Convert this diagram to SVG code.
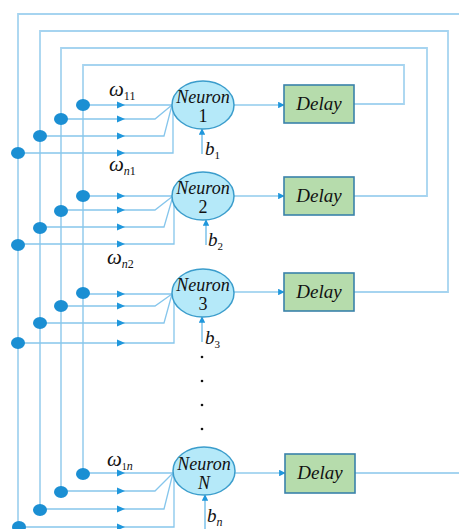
<svg xmlns="http://www.w3.org/2000/svg" xmlns:xlink="http://www.w3.org/1999/xlink" width="459" height="529" viewBox="0 0 459 529">
  <style>
    .loop { fill: none; stroke: #a6d4f0; stroke-width: 1.8; }
    .wire { fill: none; stroke: #86c6ec; stroke-width: 1.3; }
    .dot { fill: #1b8fd3; }
    .head { fill: #1f97dc; }
    .neuron ellipse { fill: #b5e9f9; stroke: #3b9dcc; stroke-width: 1.5; }
    .delay rect { fill: #b6dcac; stroke: #3a82aa; stroke-width: 1.6; }
    .lbl { font-family: "Liberation Serif", "Times New Roman", serif; fill: #111; }
    .it { font-style: italic; }
    .bias { fill: none; stroke: #5ab2e4; stroke-width: 1.2; }
  </style>
  <defs>
    <path id="ah" d="M-8,-3.5 L0,0 L-8,3.5 Z" class="head"/>
    <marker id="tip" viewBox="0 0 10 10" refX="9" refY="5" markerWidth="6.5" markerHeight="6.5" markerUnits="userSpaceOnUse" orient="auto">
      <path d="M0,0 L10,5 L0,10 Z" fill="#1f97dc"/>
    </marker>
  </defs>

  <rect width="459" height="529" fill="#ffffff"/>

  <g id="connectors">
    <!-- feedback loops from the delay outputs back to the input rails -->
    <path class="loop" d="M18,529 V14 H459"/>
    <path class="loop" d="M355,473 H459"/>
    <path class="loop" d="M40,511 V31 H448 V292 H354"/>
    <path class="loop" d="M61,492 V48 H427 V196 H354"/>
    <path class="loop" d="M83,474 V65 H404 V104 H354"/>

    <!-- inputs of neuron 1 -->
    <path class="wire" d="M83,105 H172"/>
    <path class="wire" d="M61,119 H155 L172,105"/>
    <path class="wire" d="M40,136 H164 L172,105"/>
    <path class="wire" d="M18,153 H173 V105"/>
    <!-- inputs of neuron 2 -->
    <path class="wire" d="M83,196 H173"/>
    <path class="wire" d="M61,210 H155 L173,196"/>
    <path class="wire" d="M40,227 H164 L173,196"/>
    <path class="wire" d="M18,244 H174 V196"/>
    <!-- inputs of neuron 3 -->
    <path class="wire" d="M83,294 H172"/>
    <path class="wire" d="M61,306 H155 L172,294"/>
    <path class="wire" d="M40,323 H164 L172,294"/>
    <path class="wire" d="M18,343 H174 V294"/>
    <!-- inputs of neuron N -->
    <path class="wire" d="M83,473 H173"/>
    <path class="wire" d="M61,491 H155 L173,473"/>
    <path class="wire" d="M40,509 H164 L173,473"/>
    <path class="wire" d="M18,527 H174 V473"/>

    <!-- weight arrowheads -->
    <use xlink:href="#ah" x="125" y="105"/>
    <use xlink:href="#ah" x="125" y="119"/>
    <use xlink:href="#ah" x="125" y="136"/>
    <use xlink:href="#ah" x="125" y="153"/>
    <use xlink:href="#ah" x="125" y="196"/>
    <use xlink:href="#ah" x="125" y="210"/>
    <use xlink:href="#ah" x="125" y="227"/>
    <use xlink:href="#ah" x="125" y="244"/>
    <use xlink:href="#ah" x="125" y="294"/>
    <use xlink:href="#ah" x="125" y="306"/>
    <use xlink:href="#ah" x="125" y="323"/>
    <use xlink:href="#ah" x="125" y="343"/>
    <use xlink:href="#ah" x="125" y="473"/>
    <use xlink:href="#ah" x="125" y="491"/>
    <use xlink:href="#ah" x="125" y="509"/>
    <use xlink:href="#ah" x="125" y="527"/>

    <!-- junction dots -->
    <ellipse class="dot" cx="83" cy="105" rx="7" ry="6"/>
    <ellipse class="dot" cx="61" cy="119" rx="7" ry="6"/>
    <ellipse class="dot" cx="40" cy="136" rx="7" ry="6"/>
    <ellipse class="dot" cx="18" cy="153" rx="7" ry="6"/>
    <ellipse class="dot" cx="83" cy="196" rx="7" ry="6"/>
    <ellipse class="dot" cx="61" cy="211" rx="7" ry="6"/>
    <ellipse class="dot" cx="40" cy="228" rx="7" ry="6"/>
    <ellipse class="dot" cx="18" cy="245" rx="7" ry="6"/>
    <ellipse class="dot" cx="83" cy="293" rx="7" ry="6"/>
    <ellipse class="dot" cx="61" cy="306" rx="7" ry="6"/>
    <ellipse class="dot" cx="40" cy="323" rx="7" ry="6"/>
    <ellipse class="dot" cx="18" cy="343" rx="7" ry="6"/>
    <ellipse class="dot" cx="83" cy="474" rx="7" ry="6"/>
    <ellipse class="dot" cx="61" cy="492" rx="7" ry="6"/>
    <ellipse class="dot" cx="40" cy="510" rx="7" ry="6"/>
    <ellipse class="dot" cx="19" cy="527" rx="7" ry="6"/>

    <!-- neuron to delay -->
    <line class="bias" x1="234" y1="105" x2="284" y2="105" marker-end="url(#tip)"/>
    <line class="bias" x1="234" y1="196" x2="284" y2="196" marker-end="url(#tip)"/>
    <line class="bias" x1="234" y1="292" x2="284" y2="292" marker-end="url(#tip)"/>
    <line class="bias" x1="235" y1="473" x2="285" y2="473" marker-end="url(#tip)"/>

    <!-- bias inputs -->
    <line class="bias" x1="202" y1="154" x2="202" y2="129" marker-end="url(#tip)"/>
    <line class="bias" x1="206" y1="245" x2="206" y2="220" marker-end="url(#tip)"/>
    <line class="bias" x1="202" y1="342" x2="202" y2="317" marker-end="url(#tip)"/>
    <line class="bias" x1="205" y1="529" x2="205" y2="495" marker-end="url(#tip)"/>
  </g>

  <g id="neuron-1" class="neuron">
    <ellipse cx="203" cy="105" rx="31" ry="24"/>
    <text class="lbl it" x="203" y="103" font-size="18" text-anchor="middle">Neuron</text>
    <text class="lbl" x="203" y="122" font-size="18" text-anchor="middle">1</text>
  </g>
  <g id="neuron-2" class="neuron">
    <ellipse cx="203" cy="196" rx="31" ry="24"/>
    <text class="lbl it" x="203" y="194" font-size="18" text-anchor="middle">Neuron</text>
    <text class="lbl" x="203" y="213" font-size="18" text-anchor="middle">2</text>
  </g>
  <g id="neuron-3" class="neuron">
    <ellipse cx="203" cy="293" rx="31" ry="24"/>
    <text class="lbl it" x="203" y="291" font-size="18" text-anchor="middle">Neuron</text>
    <text class="lbl" x="203" y="310" font-size="18" text-anchor="middle">3</text>
  </g>
  <g id="neuron-N" class="neuron">
    <ellipse cx="204" cy="471" rx="31" ry="24"/>
    <text class="lbl it" x="204" y="470" font-size="18" text-anchor="middle">Neuron</text>
    <text class="lbl it" x="204" y="489" font-size="18" text-anchor="middle">N</text>
  </g>

  <g id="delay-1" class="delay">
    <rect x="284" y="85" width="70" height="38"/>
    <text class="lbl it" x="319" y="110" font-size="19" text-anchor="middle">Delay</text>
  </g>
  <g id="delay-2" class="delay">
    <rect x="284" y="177" width="70" height="38"/>
    <text class="lbl it" x="319" y="202" font-size="19" text-anchor="middle">Delay</text>
  </g>
  <g id="delay-3" class="delay">
    <rect x="284" y="273" width="70" height="38"/>
    <text class="lbl it" x="319" y="298" font-size="19" text-anchor="middle">Delay</text>
  </g>
  <g id="delay-N" class="delay">
    <rect x="285" y="454" width="70" height="39"/>
    <text class="lbl it" x="320" y="479" font-size="19" text-anchor="middle">Delay</text>
  </g>

  <g id="weights">
    <text class="lbl it" x="109" y="96" font-size="21">ω<tspan font-style="normal" font-size="12" dy="4">11</tspan></text>
    <text class="lbl it" x="109" y="171" font-size="21">ω<tspan font-size="12" dy="4">n</tspan><tspan font-style="normal" font-size="12">1</tspan></text>
    <text class="lbl it" x="107" y="264" font-size="21">ω<tspan font-size="12" dy="4">n</tspan><tspan font-style="normal" font-size="12">2</tspan></text>
    <text class="lbl it" x="107" y="466" font-size="21">ω<tspan font-style="normal" font-size="10" dy="4">1</tspan><tspan font-size="12">n</tspan></text>
  </g>

  <g id="biases">
    <text class="lbl it" x="205" y="155" font-size="19">b<tspan font-style="normal" font-size="11" dy="4">1</tspan></text>
    <text class="lbl it" x="208" y="246" font-size="19">b<tspan font-style="normal" font-size="11" dy="4">2</tspan></text>
    <text class="lbl it" x="205" y="344" font-size="19">b<tspan font-style="normal" font-size="11" dy="4">3</tspan></text>
    <text class="lbl it" x="207" y="522" font-size="19">b<tspan font-size="12" dy="4">n</tspan></text>
  </g>

  <g id="ellipsis" fill="#111">
    <circle cx="202" cy="357" r="1.3"/>
    <circle cx="202" cy="381" r="1.3"/>
    <circle cx="202" cy="405" r="1.3"/>
    <circle cx="202" cy="429" r="1.3"/>
  </g>
</svg>
